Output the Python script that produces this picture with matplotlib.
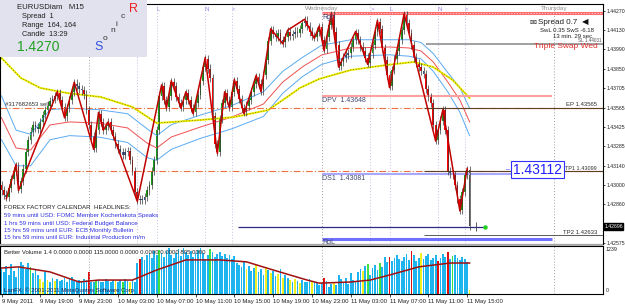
import numpy as np
import matplotlib
matplotlib.use('Agg')
import matplotlib.pyplot as plt
from matplotlib.patches import Rectangle

plt.rcParams['font.family'] = ['Liberation Sans', 'DejaVu Sans']

# ---------------- data ----------------
BASE = 1.42  # price base, values below are in pips (0.0001) above it
open0_pips = 100
close_pips = [
    96, 93, 91, 98, 104, 110, 114, 97, 103, 112,
    124, 133, 139, 144, 142, 141, 146, 151, 155, 158,
    161, 163, 165, 167, 162, 157, 150, 156, 162, 168,
    174, 172, 170, 169, 166, 155, 144, 136, 127, 140,
    152, 146, 140, 143, 146, 140, 136, 130, 126, 124,
    122, 124, 125, 118, 110, 95, 89, 90, 89, 91,
    96, 100, 110, 118, 140, 165, 172, 162, 157, 165,
    175, 172, 164, 160, 157, 162, 167, 162, 156, 153,
    160, 166, 176, 186, 192, 185, 178, 150, 130, 124,
    148, 160, 167, 162, 157, 168, 176, 170, 163, 156,
    153, 158, 162, 168, 174, 179, 174, 169, 180, 191,
    205, 213, 210, 208, 211, 206, 204, 208, 212, 209,
    210, 212, 211, 214, 218, 220, 216, 212, 209, 208,
    212, 215, 206, 199, 208, 217, 224, 212, 202, 187,
    190, 193, 195, 196, 201, 206, 211, 206, 201, 198,
    193, 189, 196, 202, 212, 219, 214, 200, 191, 180,
    172, 184, 192, 198, 206, 213, 224, 218, 211, 202,
    193, 189, 186, 183, 181, 170, 164, 160, 144, 133,
    140, 147, 155, 140, 110, 108, 107, 100, 90, 82,
    95, 107, 111, 70,
]

zz_idx = [2, 6, 7, 23, 26, 30, 38, 40, 42, 44, 56, 66, 68, 70, 74, 76, 79, 84, 89,
          92, 94, 96, 100, 105, 107, 111, 116, 118, 125, 129, 131, 133, 136, 139,
          146, 151, 155, 160, 166, 179, 182, 189, 192]
zz_pips = [90, 115, 96, 168, 149, 175, 126, 153, 140, 146, 88, 173, 156, 176, 156, 168, 152, 193, 123,
           168, 156, 177, 152, 180, 168, 214, 203, 213, 221, 207, 216, 198, 225, 186,
           212, 188, 220, 171, 225, 132, 155, 81, 112]

ma_idx = [0, 6, 12, 20, 28, 40, 52, 60, 64, 70, 82, 95, 108, 116, 124, 132, 144, 160, 168, 173, 178, 184, 189, 193]
ma_mid = [149, 127, 125.5, 143.8, 146, 145.2, 141.6, 130.6, 127, 135, 142.3, 149.6, 159.1, 175.2, 186.1,
          194.9, 200, 200.7, 200, 197.8, 189.8, 175.2, 162, 146]
ma_up = [165, 140, 137, 155, 156, 155, 152, 141, 136, 144, 151, 158, 168, 183, 193, 202, 206, 206, 206,
         204, 196, 182, 171, 156]
ma_lo = [133, 114, 114, 133, 136, 135, 131, 120, 118, 126, 134, 141, 150, 167, 179, 188, 194, 195, 194,
         192, 183, 168, 153, 136]

sma_idx = [0, 8, 16, 27, 41, 54, 64, 71, 82, 96, 110, 119, 123, 131, 144, 159, 170, 178, 186, 193]
sma_pips = [192.7, 178.1, 170.8, 167.1, 164.2, 156.9, 145.2, 146, 147.4, 149.6, 154.7, 165.7, 170.8,
            177.4, 183.9, 187.6, 189.8, 186.1, 176.6, 163.5]

volume = [
    640, 560, 720, 500, 780, 600, 450, 700,
    820, 760, 640, 800, 700, 540, 620, 480,
    380, 320, 560, 360, 300, 420, 340, 380,
    330, 360, 420, 300, 380, 440, 340, 300, 360, 320, 400,
    360, 570, 320, 300, 340, 360, 300, 320, 380, 340, 300, 360, 330, 300, 350, 320, 380, 340, 300, 360, 320,
    800, 900, 960, 880, 1000, 1050, 940, 1100, 1000,
    1130, 1050, 950, 1100, 1180, 1000, 920, 1060, 1150, 980, 1190, 1080, 1000, 1120, 950, 1060,
    1140, 1200, 1050, 900, 1000, 1160, 1080, 950, 1020, 1090, 980, 1040, 930, 1000, 900, 980,
    800, 760, 700, 820, 640, 720, 600, 680, 760, 560, 640, 500, 700, 620, 540, 600, 460, 520, 640, 420, 500,
    420, 360, 300, 400, 340, 280, 360, 320, 300, 380, 340, 300,
    320, 220, 280, 420, 340, 180, 260, 300, 240, 500, 380, 300, 420, 260, 540, 360, 300,
    560, 640, 600, 720, 780, 500, 680, 740, 620, 800, 700,
    960, 820, 960, 860, 940, 1000, 900, 860, 960, 1040, 880, 1100, 1000, 860, 940, 1060, 900, 980,
    1020, 880, 940, 1000, 860, 920, 1040, 960, 1090, 900, 980, 1000, 940, 880, 960, 900, 820,
    100,
]
volume_cls = ("bbbbbbbb" "bbbbgbbb" "yybybbyb" "bbbbbbbbbbb"
              "brbbgbbbbbbbybbgbbybb" "brbbbbbbb"
              "g" + "b" * 20 + "g" + "b" * 10 +
              "bbbbybbbybbbybybbybyb" "bybybybbbbyb" "bbbrbbbybbbbbbbbb" "bbybgbbbbgb"
              "bbr" + "b" * 8 + "rbbby" + "b" * 6 + "rbbbrbg" + "b" * 6 + "y")
vma_idx = [0, 7, 20, 32, 40, 54, 64, 76, 90, 101, 112, 126, 131, 144, 152, 160, 172, 185, 193]
vma_val = [670, 700, 570, 310, 360, 360, 620, 880, 880, 830, 620, 360, 280, 310, 360, 490, 700, 800, 800]

time_idx = [0, 16, 32, 48, 64, 80, 96, 112, 128, 144, 160, 176, 192]
time_lbl = ["9 May 2011", "9 May 19:00", "9 May 23:00", "10 May 03:00", "10 May 07:00", "10 May 11:00",
            "10 May 15:00", "10 May 19:00", "10 May 23:00", "11 May 03:00", "11 May 07:00",
            "11 May 11:00", "11 May 15:00"]
price_ticks = [1.44270, 1.44130, 1.43990, 1.43850, 1.43705, 1.43565, 1.43425, 1.43285, 1.43140,
               1.43000, 1.42860, 1.42575]
day_sep_idx = [36, 132, 228]
day_names = ["", "Wednesday", "Thursday"]
sess_idx = [56, 64, 84, 95, 152, 160, 180, 191]
sess_lbl = [">", "L", "N", "<", ">", "L", "N", "<"]

news_title = "FOREX FACTORY CALENDAR  HEADLINES:"
news = ["59 mins until USD: FOMC Member Kocherlakota Speaks",
        "1 hrs 59 mins until USD: Federal Budget Balance",
        "15 hrs 59 mins until EUR: ECB Monthly Bulletin",
        "15 hrs 59 mins until EUR: Industrial Production m/m"]

EP, TP1, TP2 = 1.43565, 1.43099, 1.42633
DPV, DS1 = 1.43648, 1.43081
RGH, RGL = 1.44255, 1.42606
SL_LINE = 1.44029
BID = 1.42696
BIG_LABEL = 1.43112

# ---------------- figure ----------------
W, H = 625, 307
fig = plt.figure(figsize=(W / 100, H / 100), dpi=100)
fig.patch.set_facecolor('white')

def fx(px):
    return px / W

def fy(py):
    return 1 - py / H

XL = (-0.62, 248.0)
ax = fig.add_axes([0, fy(244), fx(603), fy(4) - fy(244)])
axv = fig.add_axes([0, fy(294), fx(603), fy(246) - fy(294)])
fig.add_artist(Rectangle((0, fy(246)), fx(603), fy(243.5) - fy(246), transform=fig.transFigure,
                         color='#a8a8a8', lw=0))

p = lambda v: BASE + np.asarray(v, dtype=float) / 10000.0
close = p(close_pips)
opens = np.r_[p(open0_pips), close[:-1]]
n = len(close)
idx = np.arange(n)
WICK = 0.0003
hi = np.maximum(opens, close) + WICK
lo = np.minimum(opens, close) - WICK

for a in (ax, axv):
    a.set_xlim(*XL)
    for s in a.spines.values():
        s.set_color('black')
        s.set_linewidth(0.8)

ax.set_ylim(1.42569, 1.44321)

# vertical dotted lines
for i in day_sep_idx:
    ax.axvline(i, color='#a0a0a0', lw=0.7, ls=(0, (1, 2)))
    axv.axvline(i, color='#a0a0a0', lw=0.7, ls=(0, (1, 2)))
for i in sess_idx:
    ax.axvline(i, color='#c8c0e0', lw=0.7, ls=(0, (1, 2)))
for i, t in zip(sess_idx, sess_lbl):
    ax.text(i + 0.8, 1.44300, t, color='#a080e0', fontsize=4.5, ha='center', va='top')
for i, t in zip(day_sep_idx, day_names):
    if t:
        ax.text(i, 1.44305, t, color='#909090', fontsize=4.6, ha='center', va='top')

# MA bands
ax.plot(ma_idx, p(ma_up), color='#5aaaf0', lw=0.7)
ax.plot(ma_idx, p(ma_lo), color='#5aaaf0', lw=0.7)
ax.plot(ma_idx, p(ma_mid), color='#f05050', lw=0.7)
ax.plot(sma_idx, p(sma_pips), color='#f0f000', lw=1.4)
ax.plot(sma_idx, p(sma_pips), color='#606000', lw=0.5, ls=(0, (1.5, 2.5)))

# order / level lines
ax.axhline(EP, color='#f07040', lw=0.8, ls=(0, (6, 2, 1, 2)))
ax.axhline(TP1, color='#f07040', lw=0.8, ls=(0, (6, 2, 1, 2)))
ax.hlines([EP, TP1], 174, XL[1], color='#604020', lw=0.8)
ax.hlines(TP2, 174, XL[1], color='#404040', lw=0.6)
ax.hlines(SL_LINE, 175, XL[1], color='#909090', lw=1.2)
ax.hlines(DPV, 132, 227, color='#ffa0a0', lw=1.5)
ax.hlines(DS1, 132, 212, color='#a8a8ff', lw=1.5)
ax.hlines(RGH, 132, XL[1], color='#ff6a6a', lw=2.2)
ax.hlines(RGH, 132, XL[1], color='#ffd0d0', lw=0.8, ls=(0, (1, 1.5)))
ax.hlines(RGL, 132, 227, color='#7070ff', lw=2.2)
ax.hlines(BID, 97.5, 199, color='#2a2a80', lw=0.9)
ax.plot([199.5], [BID], 'o', color='#20d020', ms=2.2)
ax.vlines(195.5, BID - 0.0003, BID + 0.0003, color='#404040', lw=0.6)

# candles
for i in range(n):
    ax.vlines(i, lo[i], hi[i], color='#383838', lw=0.5)
for i in range(n):
    o, c = opens[i], close[i]
    if i == n - 1:
        col = '#505050'
    elif abs(c - o) < 0.00025:
        col = '#3a5a8a'
    elif c > o:
        col = '#18a018'
    else:
        col = '#ff0000'
    ax.bar(i, max(abs(c - o), 0.00006), bottom=min(o, c), width=0.72, color=col, lw=0)

# zigzag
ax.plot(zz_idx, p(zz_pips), color='#c00000', lw=1.1)

# text annotations (main)
ax.text(0.008, EP + 0.00004, "#317682653 sell", transform=ax.get_yaxis_transform(),
        fontsize=4.3, color='#303030', va='bottom')
ax.text(245.5, EP + 0.00003, "EP 1.43565", fontsize=4.3, color='#303030', ha='right', va='bottom')
ax.text(245.5, TP1 + 0.00003, "TP1 1.43099", fontsize=4.0, color='#303030', ha='right', va='bottom')
ax.text(245.5, TP2 + 0.00003, "TP2 1.42633", fontsize=4.3, color='#303030', ha='right', va='bottom')
ax.text(132.3, DPV - 0.00005, "DPV  1.43648", fontsize=5, color='#404870', va='top')
ax.text(132.3, DS1 - 0.00005, "DS1  1.43081", fontsize=5, color='#404870', va='top')
ax.text(132.3, RGH - 0.00008, "Rgh", fontsize=5, color='#404870', va='top')
ax.text(132.3, RGL - 0.00004, "RgL", fontsize=5, color='#404870', va='top')
ax.text(221.0, BIG_LABEL, "1.43112", fontsize=10, color='#2020ff', ha='center', va='center',
        bbox=dict(boxstyle='square,pad=0.12', fc='white', ec='#3030ff', lw=0.8))
ax.text(209.0, BIG_LABEL, "–", fontsize=5, color='#3030ff', ha='center', va='center')

ax.text(1.0, 1.42839, news_title, fontsize=4.4, color='#202020', va='center')
for k, line in enumerate(news):
    ax.text(1.0, 1.42775 - 0.00054 * k, line, fontsize=4.4, color='#3030e0', va='center')

# top-left info box
fig.add_artist(Rectangle((0, fy(57)), fx(147), fy(0) - fy(57), transform=fig.transFigure,
                         fc='#e2e2ee', ec='none', zorder=5))
def ftext(px, py, s, **kw):
    fig.text(fx(px), fy(py), s, va='center', zorder=6, **kw)
ftext(17, 7.5, "EURUSDiam   M15", fontsize=5.6, color='#202020')
ftext(22, 17, "Spread  1", fontsize=5.3, color='#202020')
ftext(22, 25.5, "Range  164, 164", fontsize=5.3, color='#202020')
ftext(22, 34, "Candle  13:29", fontsize=5.3, color='#202020')
ftext(17, 47, "1.4270", fontsize=10, color='#22a022')
ftext(129, 8.5, "R", fontsize=9, color='#ee2020')
ftext(121, 16, "c", fontsize=6, color='#303030')
ftext(116, 24, "i", fontsize=6, color='#303030')
ftext(110, 31, "n", fontsize=6, color='#303030')
ftext(103, 38.5, "o", fontsize=6, color='#303030')
ftext(94, 47.5, "S", fontsize=9, color='#3050e0')

# top-right info
ftext(529, 22, "✉", fontsize=6, color='#303030', family=['DejaVu Sans'])
ftext(538, 22, "Spread 0.7", fontsize=5.8, color='#202020')
ftext(582, 22, "◀", fontsize=6, color='#101010', family=['DejaVu Sans'])
fig.text(fx(594), fy(30.5), "SwL 0.35 SwS -6.18", fontsize=4.3, color='#202020', ha='right', va='center')
fig.text(fx(594), fy(36), "13 min. 29 sec.", fontsize=4.3, color='#202020', ha='right', va='center')
fig.text(fx(602), fy(41), "SL 1.44031", fontsize=3.3, color='#505050', ha='right', va='center')
fig.text(fx(598), fy(46.5), "Triple Swap Wed", fontsize=6.0, color='#e03030', ha='right', va='center')

# price axis
ax.yaxis.tick_right()
ax.set_yticks(price_ticks)
ax.set_yticklabels(["%.5f" % v for v in price_ticks], fontsize=3.7, color='#202020')
ax.tick_params(axis='y', length=1.5, width=0.5, pad=0.8)
ax.set_xticks([])
ax.text(1.002, BID, "1.42696", transform=ax.get_yaxis_transform(), fontsize=3.7, color='white',
        va='center', ha='left', bbox=dict(boxstyle='square,pad=0.12', fc='black', ec='black'),
        clip_on=False)

# volume panel
cmap = {'b': '#1eb4f0', 'y': '#f0f020', 'g': '#40e040', 'r': '#e01010'}
axv.bar(idx, volume, width=0.72, color=[cmap[c] for c in volume_cls], lw=0)
axv.plot(vma_idx, vma_val, color='#a01010', lw=1.1)
axv.set_ylim(0, 1239)
axv.set_yticks([])
axv.text(1.004, 0.93, "1239", transform=axv.transAxes, fontsize=3.8, color='#202020', va='center')
axv.text(1.004, 0.08, "0", transform=axv.transAxes, fontsize=3.8, color='#202020', va='center')
axv.text(0.006, 0.86, "Better Volume 1.4 0.0000 0.0000 115.0000 0.0000 0.0000 0.0000 805.0000",
         transform=axv.transAxes, fontsize=4.3, color='#202020', va='center')
axv.text(0.006, 0.08, "LanFX: © 2001-2011 MetaQuotes Software Corp.", transform=axv.transAxes,
         fontsize=4.3, color='#202050', va='center')
axv.set_xticks(time_idx)
axv.set_xticklabels(time_lbl, fontsize=4.3, ha='left', color='#202020')
axv.tick_params(axis='x', length=2, width=0.5, pad=1.5)

fig.savefig('out.png', dpi=100, facecolor='white')
